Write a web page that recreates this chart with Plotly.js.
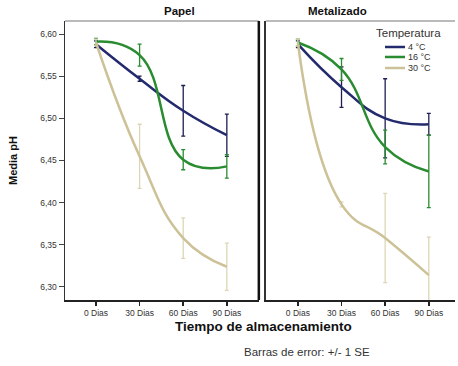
<!DOCTYPE html>
<html>
<head>
<meta charset="utf-8">
<script src="https://cdn.plot.ly/plotly-3.0.1.min.js"></script>
<style>html,body{margin:0;padding:0;background:#fff;}#chart{width:458px;height:366px;}</style>
</head>
<body>
<div id="chart"></div>
<script>
// ---- data ----
const days = [0, 30, 60, 90];
const dayLabels = ['0 Dias', '30 Dias', '60 Dias', '90 Dias'];
const temps = ['4 °C', '16 °C', '30 °C'];
const panels = ['Papel', 'Metalizado'];

const papel4 = [6.588, 6.547, 6.509, 6.480];
const papel4Err = [0.004, 0.003, 0.030, 0.025];
const papel16 = [6.591, 6.575, 6.451, 6.443];
const papel16Err = [0.004, 0.013, 0.012, 0.014];
const papel30 = [6.590, 6.455, 6.358, 6.324];
const papel30Err = [0.004, 0.038, 0.024, 0.028];

const met4 = [6.588, 6.537, 6.500, 6.493];
const met4Err = [0.004, 0.024, 0.047, 0.013];
const met16 = [6.590, 6.558, 6.466, 6.437];
const met16Err = [0.004, 0.013, 0.020, 0.043];
const met30 = [6.590, 6.398, 6.358, 6.314];
const met30Err = [0.004, 0.003, 0.053, 0.045];

const lineColors = ['#242a6e', '#2a8c30', '#cdc297'];
const barColors = ['#1c1f50', '#2a8c30', '#ddd6b6'];

const series = [
  [papel4, papel4Err, met4, met4Err],
  [papel16, papel16Err, met16, met16Err],
  [papel30, papel30Err, met30, met30Err]
];

const traces = [];
series.forEach((s, i) => {
  [[s[0], s[1], 'x', 'y'], [s[2], s[3], 'x2', 'y2']].forEach(p => {
    traces.push({
      x: days, y: p[0], xaxis: p[2], yaxis: p[3],
      type: 'scatter', mode: 'lines',
      name: temps[i], showlegend: false,
      line: {color: lineColors[i], width: 2.5, shape: 'spline', smoothing: 1.3},
      error_y: {type: 'data', array: p[1], visible: true, color: barColors[i], thickness: 1.3, width: 2},
      hoverinfo: 'skip'
    });
  });
});

const font = 'Liberation Sans, Arial, sans-serif';
const xBase = {
  tickvals: days, ticktext: dayLabels, ticks: 'outside', ticklen: 4, tickwidth: 1.5, tickcolor: '#222',
  showline: true, linecolor: '#222', linewidth: 2, showgrid: false, zeroline: false,
  tickfont: {family: font, size: 8.5, color: '#333'}, fixedrange: true
};

// manual legend (positions only)
const legX0 = 0.8205, legX1 = 0.8718, legTx = 0.874;
const legRows = [0.9068, 0.871, 0.8315];
const legShapes = temps.map((t, i) => ({
  type: 'line', xref: 'paper', yref: 'paper', x0: legX0, x1: legX1, y0: legRows[i], y1: legRows[i],
  line: {color: lineColors[i], width: 2.5}
}));
const legAnn = temps.map((t, i) => ({
  text: t, xref: 'paper', yref: 'paper', x: legTx, y: legRows[i], xanchor: 'left', yanchor: 'middle',
  showarrow: false, font: {family: font, size: 9, color: '#333'}
}));

const layout = {
  width: 458, height: 366,
  margin: {l: 65, r: 3, t: 21, b: 66},
  paper_bgcolor: '#fff', plot_bgcolor: '#fff',
  separators: ', ',
  showlegend: false,
  xaxis: Object.assign({}, xBase, {domain: [0, 0.497], range: [-21.3, 112], anchor: 'y'}),
  xaxis2: Object.assign({}, xBase, {domain: [0.515, 1], range: [-22, 108], anchor: 'y2'}),
  yaxis: {
    range: [6.2845, 6.6155], tickvals: [6.30, 6.35, 6.40, 6.45, 6.50, 6.55, 6.60], tickformat: '.2f',
    ticks: 'outside', ticklen: 5, tickcolor: '#444', showline: true, linecolor: '#333', linewidth: 1.5,
    showgrid: false, zeroline: false, tickfont: {family: font, size: 8.5, color: '#333'}, anchor: 'x',
    title: {text: 'Media pH', font: {family: font, size: 11, color: '#111', weight: 'bold'}, standoff: 20},
    fixedrange: true
  },
  yaxis2: {
    range: [6.2845, 6.6155], showticklabels: false, ticks: '', showline: true, linecolor: '#333', linewidth: 1.5,
    showgrid: false, zeroline: false, anchor: 'x2', fixedrange: true
  },
  shapes: [
    {type: 'line', xref: 'x domain', yref: 'paper', x0: 0, x1: 1, y0: 1, y1: 1, line: {color: '#777', width: 1}},
    {type: 'line', xref: 'x domain', yref: 'paper', x0: 1, x1: 1, y0: 0, y1: 1, line: {color: '#111', width: 2.5}},
    {type: 'line', xref: 'x2 domain', yref: 'paper', x0: 0, x1: 1, y0: 1, y1: 1, line: {color: '#777', width: 1}}
  ].concat(legShapes),
  annotations: [
    {text: '<b>' + panels[0] + '</b>', xref: 'paper', yref: 'paper', x: 0.248, y: 1, yanchor: 'bottom', yshift: 2,
     showarrow: false, font: {family: font, size: 11.5, color: '#111'}},
    {text: '<b>' + panels[1] + '</b>', xref: 'paper', yref: 'paper', x: 0.78, y: 1, yanchor: 'bottom', yshift: 2,
     showarrow: false, font: {family: font, size: 11.5, color: '#111'}},
    {text: '<b>Tiempo de almacenamiento</b>', xref: 'paper', yref: 'paper', x: 0.508, y: 0, yanchor: 'top', yshift: -17,
     showarrow: false, font: {family: font, size: 13.5, color: '#111'}},
    {text: 'Barras de error: +/- 1 SE', xref: 'paper', yref: 'paper', x: 0.62, y: 0, yanchor: 'top', yshift: -44,
     showarrow: false, font: {family: font, size: 11.5, color: '#333'}},
    {text: 'Temperatura', xref: 'paper', yref: 'paper', x: 0.792, y: 0.957, xanchor: 'left', yanchor: 'middle',
     showarrow: false, font: {family: font, size: 11.5, color: '#333'}}
  ].concat(legAnn)
};

Plotly.newPlot('chart', traces, layout, {staticPlot: true, displayModeBar: false});
</script>
</body>
</html>
